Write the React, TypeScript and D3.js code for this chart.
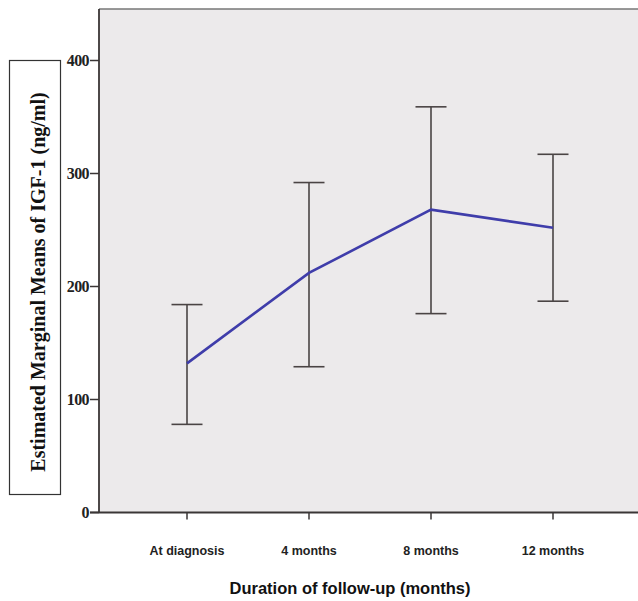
import React from "react";
import * as d3 from "d3";

const categories = ["At diagnosis", "4 months", "8 months", "12 months"];
const means = [132, 212, 268, 252];
const upper = [184, 292, 359, 317];
const lower = [78, 129, 176, 187];
const yTicks = [0, 100, 200, 300, 400];

export default function App() {
  const W = 638, H = 601;
  const left = 99, top = 9, right = 638, bottom = 512.5;
  const y = d3.scaleLinear().domain([0, 400]).range([bottom, 60.5]);
  const x = d3.scalePoint<string>().domain(categories).range([187, 553]);
  const line = d3.line<number>().x((_, i) => x(categories[i])!).y((d) => y(d));
  const capW = 15.5;
  return (
    <svg width={W} height={H} style={{ position: "absolute", left: 0, top: 0, background: "#fff" }}>
      <rect x={left} y={top} width={right - left} height={bottom - top} fill="#ECEAEB" />
      <line x1={left} x2={right} y1={top} y2={top} stroke="#777" strokeWidth={1.5} />
      {/* y axis */}
      <line x1={left} x2={left} y1={top} y2={bottom} stroke="#3a3636" strokeWidth={1.8} />
      {yTicks.map((t) => (
        <g key={t}>
          <line x1={left - 9} x2={left} y1={y(t)} y2={y(t)} stroke="#3a3636" strokeWidth={1.5} />
          <text x={left - 10} y={y(t)} dy="0.35em" textAnchor="end" fontFamily="Liberation Serif, serif" fontWeight="bold" fontSize={16} fill="#222" letterSpacing={-0.6}>
            {t}
          </text>
        </g>
      ))}
      {/* x axis */}
      <line x1={left - 9} x2={right} y1={bottom} y2={bottom} stroke="#3a3636" strokeWidth={1.8} />
      {categories.map((c) => (
        <g key={c}>
          <line x1={x(c)} x2={x(c)} y1={bottom} y2={bottom + 7} stroke="#3a3636" strokeWidth={1.5} />
          <text x={x(c)} y={555} textAnchor="middle" fontFamily="Liberation Sans, Arial, sans-serif" fontWeight="bold" fontSize={12.5} fill="#222">
            {c}
          </text>
        </g>
      ))}
      {/* error bars */}
      {categories.map((c, i) => {
        const cx = x(c)!;
        return (
          <g key={"e" + c} stroke="#4a4444" strokeWidth={1.6}>
            <line x1={cx} x2={cx} y1={y(upper[i])} y2={y(lower[i])} />
            <line x1={cx - capW} x2={cx + capW} y1={y(upper[i])} y2={y(upper[i])} />
            <line x1={cx - capW} x2={cx + capW} y1={y(lower[i])} y2={y(lower[i])} />
          </g>
        );
      })}
      <path d={line(means)!} fill="none" stroke="#3F3DAA" strokeWidth={2.6} />
      {/* y label box */}
      <rect x={9.5} y={60.5} width={51} height={434} fill="#fff" stroke="#333" strokeWidth={1.2} />
      <text transform={`translate(45,${282}) rotate(-90)`} textAnchor="middle" fontFamily="Liberation Serif, serif" fontWeight="bold" fontSize={20} fill="#111">
        Estimated Marginal Means of IGF-1 (ng/ml)
      </text>
      <text x={350} y={594} textAnchor="middle" fontFamily="Liberation Sans, Arial, sans-serif" fontWeight="bold" fontSize={16.5} fill="#111">
        Duration of follow-up (months)
      </text>
    </svg>
  );
}
